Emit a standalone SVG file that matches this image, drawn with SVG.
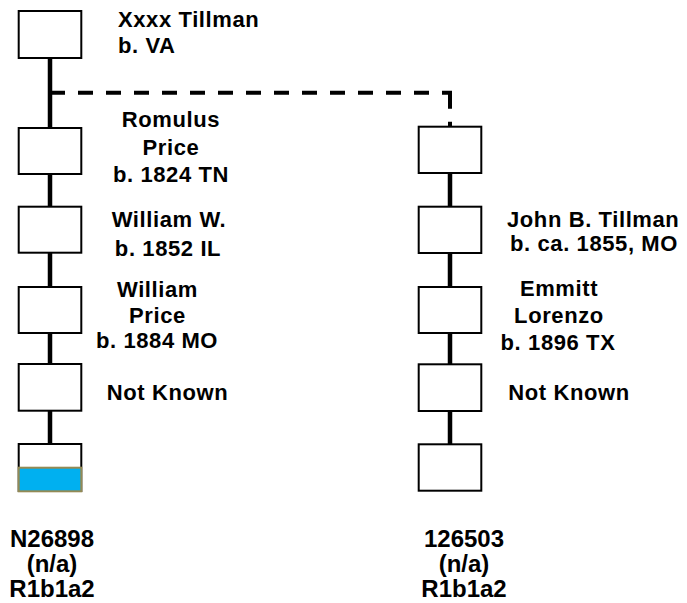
<svg xmlns="http://www.w3.org/2000/svg" width="687" height="603" viewBox="0 0 687 603">
<style>
.box{fill:#fff;stroke:#000;stroke-width:2}
.t{font-family:"Liberation Sans",Arial,sans-serif;font-weight:bold;font-size:22px;letter-spacing:0.6px;fill:#000}
.c{text-anchor:middle}
.b{font-family:"Liberation Sans",Arial,sans-serif;font-weight:bold;font-size:24px;fill:#000;text-anchor:middle}
.ln{stroke:#000;stroke-width:4.5;fill:none}
.ds{stroke:#000;stroke-width:4;fill:none}
</style>
<rect width="687" height="603" fill="#fff"/>
<g id="connectors">
<path class="ln" d="M50 58V128M50 174V207M50 253V287M50 333V364M50 411V444"/>
<path class="ds" d="M50 92.7H452" stroke-dasharray="15 13"/>
<path class="ds" d="M450 92.7V127" stroke-dasharray="16 13"/>
<path class="ln" d="M450 173V207M450 253V287M450 333V364M450 411V444"/>
</g>
<g id="n1"><rect class="box" x="18.7" y="11" width="62.6" height="47"/>
<text class="t" x="118" y="27">Xxxx Tillman</text><text class="t" x="118" y="53">b. VA</text></g>
<g id="n2"><rect class="box" x="18.7" y="128" width="62.6" height="46"/>
<text class="t c" x="171" y="127">Romulus</text><text class="t c" x="171" y="155">Price</text><text class="t c" x="171" y="182">b. 1824 TN</text></g>
<g id="n3"><rect class="box" x="18.7" y="206.7" width="62.6" height="46"/>
<text class="t c" x="169" y="227">William W.</text><text class="t c" x="168" y="256">b. 1852 IL</text></g>
<g id="n4"><rect class="box" x="18.7" y="287" width="62.6" height="46"/>
<text class="t c" x="157.5" y="297">William</text><text class="t c" x="157.5" y="323">Price</text><text class="t c" x="157" y="348">b. 1884 MO</text></g>
<g id="n5"><rect class="box" x="18.7" y="364" width="62.6" height="46.7"/>
<text class="t c" x="167.5" y="400">Not Known</text></g>
<g id="n6"><rect class="box" x="18.7" y="444" width="62.6" height="47"/>
<rect x="18.7" y="467.7" width="62.6" height="23.6" fill="#00B0F0" stroke="#948A54" stroke-width="2"/>
<text class="b" x="52" y="547">N26898</text><text class="b" x="52" y="572">(n/a)</text><text class="b" x="52" y="597">R1b1a2</text></g>
<g id="r1"><rect class="box" x="418.7" y="126.7" width="62.6" height="46.3"/></g>
<g id="r2"><rect class="box" x="418.7" y="206.7" width="62.6" height="46.3"/>
<text class="t" x="507" y="227">John B. Tillman</text><text class="t" x="510" y="251">b. ca. 1855, MO</text></g>
<g id="r3"><rect class="box" x="418.7" y="287" width="62.6" height="46"/>
<text class="t c" x="559" y="296">Emmitt</text><text class="t c" x="559" y="322.5">Lorenzo</text><text class="t c" x="558" y="350">b. 1896 TX</text></g>
<g id="r4"><rect class="box" x="418.7" y="364.3" width="62.6" height="46.7"/>
<text class="t c" x="569" y="400">Not Known</text></g>
<g id="r5"><rect class="box" x="418.7" y="444.3" width="62.6" height="46.4"/>
<text class="b" x="464" y="547">126503</text><text class="b" x="464" y="572">(n/a)</text><text class="b" x="464" y="597">R1b1a2</text></g>
</svg>
